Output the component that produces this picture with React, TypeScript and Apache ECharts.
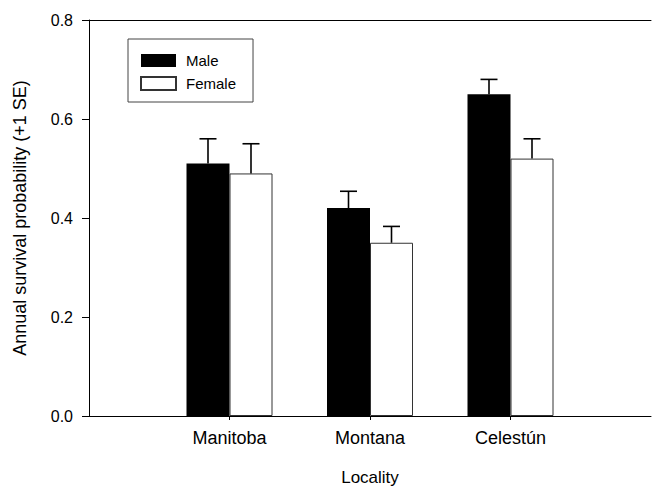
import React, { useEffect, useRef } from "react";
import * as echarts from "echarts";

const categories = ["", "Manitoba", "Montana", "Celestún", ""];
const maleValues = [null, 0.51, 0.42, 0.65, null];
const femaleValues = [null, 0.49, 0.35, 0.52, null];
const maleUpper = [null, 0.56, 0.454, 0.68, null];
const femaleUpper = [null, 0.55, 0.383, 0.56, null];
const yTicks = [0, 0.2, 0.4, 0.6, 0.8];

const FONT = "'Liberation Sans', Arial, Helvetica, sans-serif";
const BAR_W = 43;

export default function App() {
  const ref = useRef<HTMLDivElement>(null);
  useEffect(() => {
    document.body.style.margin = "0";
    const chart = echarts.init(ref.current!, null, { renderer: "svg" });
    const errData: any[] = [];
    categories.forEach((_, i) => {
      if (maleValues[i] != null) errData.push([i, maleValues[i], maleUpper[i], -1]);
      if (femaleValues[i] != null) errData.push([i, femaleValues[i], femaleUpper[i], 1]);
    });
    chart.setOption({
      animation: false,
      textStyle: { fontFamily: FONT },
      grid: {
        left: 89,
        top: 20,
        right: -6,
        bottom: 72,
        show: false,
        containLabel: false,
      },
      legend: {
        left: 128,
        top: 39,
        orient: "vertical",
        itemWidth: 35,
        itemHeight: 13,
        itemGap: 8,
        padding: [14, 17, 11, 12],
        borderColor: "#444",
        borderWidth: 1,
        icon: "rect",
        textStyle: { fontSize: 15, color: "#000", fontFamily: FONT, padding: [0, 0, 0, 5] },
        data: ["Male", "Female"],
      },
      xAxis: [
        {
          type: "category",
          data: categories,
          boundaryGap: false,
          name: "Locality",
          nameLocation: "middle",
          nameGap: 53,
          nameTextStyle: { fontSize: 17, color: "#000", fontFamily: FONT },
          axisLine: { lineStyle: { color: "#000", width: 1 } },
          axisTick: {
            show: true,
            length: 4,
            interval: (idx: number) => categories[idx] !== "",
            lineStyle: { color: "#000" },
          },
          axisLabel: { interval: 0, fontSize: 18, color: "#000", margin: 13, fontFamily: FONT },
          splitLine: { show: false },
        },
        {
          type: "category",
          data: categories,
          boundaryGap: false,
          position: "top",
          axisLine: { show: true, lineStyle: { color: "#000", width: 1 } },
          axisTick: { show: false },
          axisLabel: { show: false },
          splitLine: { show: false },
        },
      ],
      yAxis: {
        type: "value",
        min: yTicks[0],
        max: yTicks[yTicks.length - 1],
        interval: 0.2,
        name: "Annual survival probability (+1 SE)",
        nameLocation: "middle",
        nameGap: 60,
        nameTextStyle: { fontSize: 18, color: "#000", fontFamily: FONT },
        axisLine: { show: true, lineStyle: { color: "#000", width: 1 } },
        axisTick: { show: true, length: 7, lineStyle: { color: "#000" } },
        axisLabel: {
          fontSize: 16,
          color: "#000",
          margin: 16,
          fontFamily: FONT,
          formatter: (v: number) => v.toFixed(1),
        },
        splitLine: { show: false },
      },
      series: [
        {
          name: "Male",
          type: "bar",
          data: maleValues,
          barWidth: BAR_W,
          barGap: "0%",
          itemStyle: { color: "#000" },
        },
        {
          name: "Female",
          type: "bar",
          data: femaleValues,
          barWidth: BAR_W,
          itemStyle: { color: "#fff", borderColor: "#333", borderWidth: 1 },
        },
        {
          type: "custom",
          data: errData,
          encode: { x: 0, y: 2 },
          z: 5,
          renderItem: (params: any, api: any) => {
            const i = api.value(0);
            const side = api.value(3);
            const base = api.coord([i, api.value(1)]);
            const top = api.coord([i, api.value(2)]);
            const x = base[0] + (side * BAR_W) / 2;
            const style = { stroke: "#000", lineWidth: 1.6 };
            return {
              type: "group",
              children: [
                { type: "line", shape: { x1: x, y1: base[1], x2: x, y2: top[1] }, style },
                { type: "line", shape: { x1: x - 8.5, y1: top[1], x2: x + 8.5, y2: top[1] }, style },
              ],
            };
          },
        },
      ],
    });
    return () => chart.dispose();
  }, []);
  return <div ref={ref} style={{ width: 654, height: 491 }} />;
}
